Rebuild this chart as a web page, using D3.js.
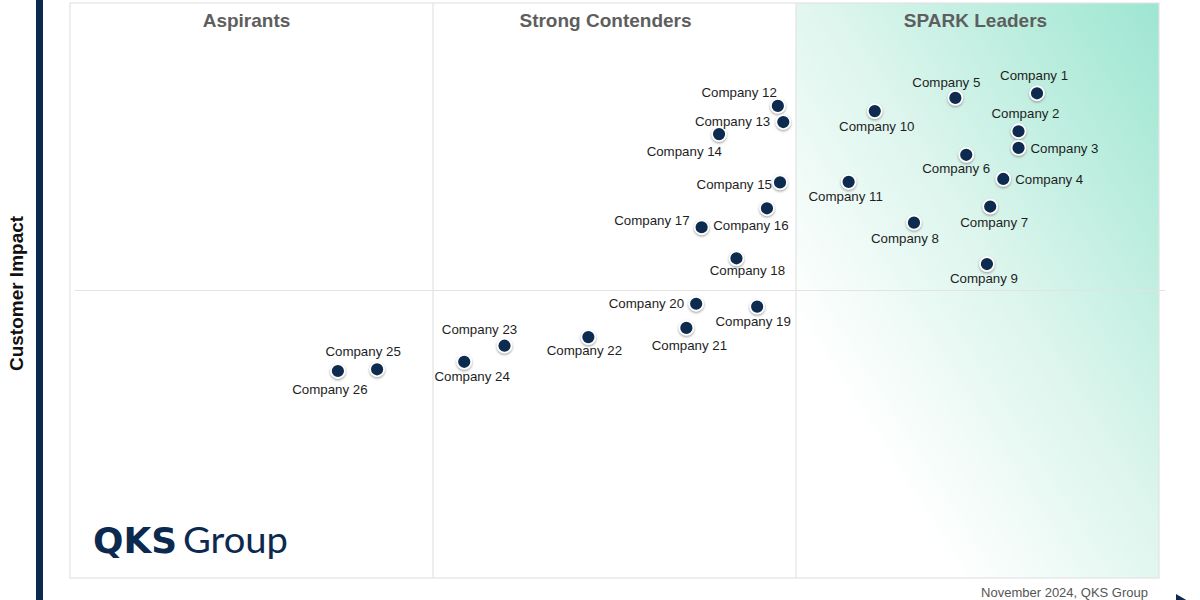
<!DOCTYPE html>
<html>
<head>
<meta charset="utf-8">
<script src="https://cdn.jsdelivr.net/npm/d3@7"></script>
<style>
  html, body { margin: 0; padding: 0; background: #fff; }
  svg { display: block; font-family: "Liberation Sans", Arial, sans-serif; }
</style>
</head>
<body>
<svg id="chart" width="1200" height="600"></svg>
<script>
// data (0-100 on both axes)
const companies = ["Company 1", "Company 2", "Company 3", "Company 4", "Company 5", "Company 6",
  "Company 7", "Company 8", "Company 9", "Company 10", "Company 11", "Company 12", "Company 13",
  "Company 14", "Company 15", "Company 16", "Company 17", "Company 18", "Company 19", "Company 20",
  "Company 21", "Company 22", "Company 23", "Company 24", "Company 25", "Company 26"];
const marketScore = [88.8, 87.1, 87.1, 85.7, 81.3, 82.3, 84.5, 77.5, 84.2, 73.9, 71.5, 65.0, 65.5,
  59.6, 65.2, 64.0, 58.0, 61.2, 63.1, 57.5, 56.6, 47.6, 39.9, 36.2, 28.2, 24.6];
const impactScore = [84.3, 77.7, 74.8, 69.4, 83.5, 73.6, 64.6, 61.8, 54.6, 81.2, 68.9, 82.1, 79.3,
  77.2, 68.8, 64.3, 61.0, 55.6, 47.2, 47.7, 43.5, 41.9, 40.4, 37.6, 36.3, 36.0];
const quadrantTitles = ["Aspirants", "Strong Contenders", "SPARK Leaders"];
const xBreaks = [100 / 3, 200 / 3];
const yBreak = 50;
const yAxisTitle = "Customer Impact";
const footnote = "November 2024, QKS Group";

// label placement next to each dot: [dx, dy, anchor]
const labelOffsets = [
  [-3, -18, "middle"], [7, -18, "middle"], [12, 1, "start"], [12, 1, "start"], [-9, -15, "middle"],
  [-10, 14, "middle"], [4, 16, "middle"], [-9, 16, "middle"], [-3, 14, "middle"], [2, 15, "middle"],
  [-3, 15, "middle"], [-1, -13, "end"], [-13, -1, "end"], [3, 17, "end"], [-8, 2, "end"],
  [-16, 17, "middle"], [-12, -7, "end"], [11, 12, "middle"], [-4, 15, "middle"], [-12, 0, "end"],
  [3, 18, "middle"], [-4, 13, "middle"], [-25, -16, "middle"], [8, 15, "middle"], [-14, -18, "middle"],
  [-8, 18, "middle"]
];
// small nudges of the column titles off the cell centre
const titleNudge = [-5, -9, -2];

const NAVY = "#0c2a50";
const BOX = { left: 70, right: 1159, top: 3, bottom: 578 };

const svg = d3.select("#chart");
const defs = svg.append("defs");

const grad = defs.append("linearGradient")
  .attr("id", "leaderGrad")
  .attr("x1", 1).attr("y1", 0).attr("x2", 0).attr("y2", 1);
grad.append("stop").attr("offset", 0).attr("stop-color", "#9de6d1");
grad.append("stop").attr("offset", 0.45).attr("stop-color", "#dcf5ed");
grad.append("stop").attr("offset", 0.78).attr("stop-color", "#ffffff");

const shadow = defs.append("filter").attr("id", "dotShadow")
  .attr("x", "-50%").attr("y", "-50%").attr("width", "200%").attr("height", "200%");
shadow.append("feDropShadow")
  .attr("dx", 0).attr("dy", 1.2).attr("stdDeviation", 1)
  .attr("flood-color", "#777").attr("flood-opacity", 0.7);

const x = d3.scaleLinear().domain([0, 100]).range([BOX.left, BOX.right]);
const y = d3.scaleLinear().domain([0, 100]).range([BOX.bottom, BOX.top]);

// leaders cell background
svg.append("rect")
  .attr("x", x(xBreaks[1]))
  .attr("y", y(100))
  .attr("width", x(100) - x(xBreaks[1]))
  .attr("height", y(0) - y(100))
  .attr("fill", "url(#leaderGrad)");

// outer box
svg.append("rect")
  .attr("x", x(0)).attr("y", y(100))
  .attr("width", x(100) - x(0)).attr("height", y(0) - y(100))
  .attr("fill", "none")
  .attr("stroke", "#e3e3e3")
  .attr("stroke-width", 1.2);

// dividers
svg.selectAll(".vdiv")
  .data(xBreaks)
  .join("line")
  .attr("class", "vdiv")
  .attr("x1", (d) => x(d)).attr("x2", (d) => x(d))
  .attr("y1", y(100)).attr("y2", y(0))
  .attr("stroke", "#e3e3e3")
  .attr("stroke-width", 1.2);

svg.append("line")
  .attr("x1", x(0) + 5).attr("x2", x(100) + 6)
  .attr("y1", y(yBreak)).attr("y2", y(yBreak))
  .attr("stroke", "#e3e3e3")
  .attr("stroke-width", 1.2);

// quadrant titles
const colEdges = [0, ...xBreaks, 100];
svg.selectAll(".qtitle")
  .data(quadrantTitles)
  .join("text")
  .attr("class", "qtitle")
  .attr("x", (d, i) => (x(colEdges[i]) + x(colEdges[i + 1])) / 2 + titleNudge[i])
  .attr("y", 27)
  .attr("text-anchor", "middle")
  .attr("font-size", 19)
  .attr("font-weight", "bold")
  .attr("fill", "#5e5e5e")
  .text((d) => d);

// y axis bar
svg.append("rect")
  .attr("x", 36).attr("y", 0)
  .attr("width", 7).attr("height", 600)
  .attr("fill", NAVY);

svg.append("text")
  .attr("transform", `translate(23, ${(y(0) + y(100)) / 2 + 3}) rotate(-90)`)
  .attr("text-anchor", "middle")
  .attr("font-size", 19)
  .attr("font-weight", "bold")
  .attr("fill", "#111")
  .text(yAxisTitle);

// x axis arrow tip, mostly off the bottom edge
svg.append("path")
  .attr("d", "M1176,594 L1200,608 L1176,622 Z")
  .attr("fill", NAVY);

// footnote
svg.append("text")
  .attr("x", 1148).attr("y", 597)
  .attr("text-anchor", "end")
  .attr("font-size", 13)
  .attr("fill", "#555")
  .text(footnote);

// logo
const logo = svg.append("g").attr("fill", NAVY);
logo.append("text")
  .attr("x", 93).attr("y", 553)
  .attr("font-family", "'DejaVu Sans', sans-serif")
  .attr("font-weight", "bold")
  .attr("font-size", 36)
  .attr("textLength", 84)
  .attr("lengthAdjust", "spacingAndGlyphs")
  .text("QKS");
logo.append("text")
  .attr("x", 183).attr("y", 553)
  .attr("font-family", "Lato, 'Open Sans', sans-serif")
  .attr("font-size", 37)
  .attr("textLength", 105)
  .attr("lengthAdjust", "spacingAndGlyphs")
  .text("Group");

// points
const points = companies.map((name, i) => ({
  name,
  mx: marketScore[i],
  cy: impactScore[i],
  off: labelOffsets[i]
}));

const g = svg.append("g");
g.selectAll("circle")
  .data(points)
  .join("circle")
  .attr("cx", (d) => x(d.mx))
  .attr("cy", (d) => y(d.cy))
  .attr("r", 7)
  .attr("fill", NAVY)
  .attr("stroke", "#fff")
  .attr("stroke-width", 1.8)
  .attr("filter", "url(#dotShadow)");

g.selectAll("text")
  .data(points)
  .join("text")
  .attr("x", (d) => x(d.mx) + d.off[0])
  .attr("y", (d) => y(d.cy) + d.off[1])
  .attr("text-anchor", (d) => d.off[2])
  .attr("dominant-baseline", "central")
  .attr("font-size", 13.3)
  .attr("fill", "#1e1e1e")
  .text((d) => d.name);
</script>
</body>
</html>
